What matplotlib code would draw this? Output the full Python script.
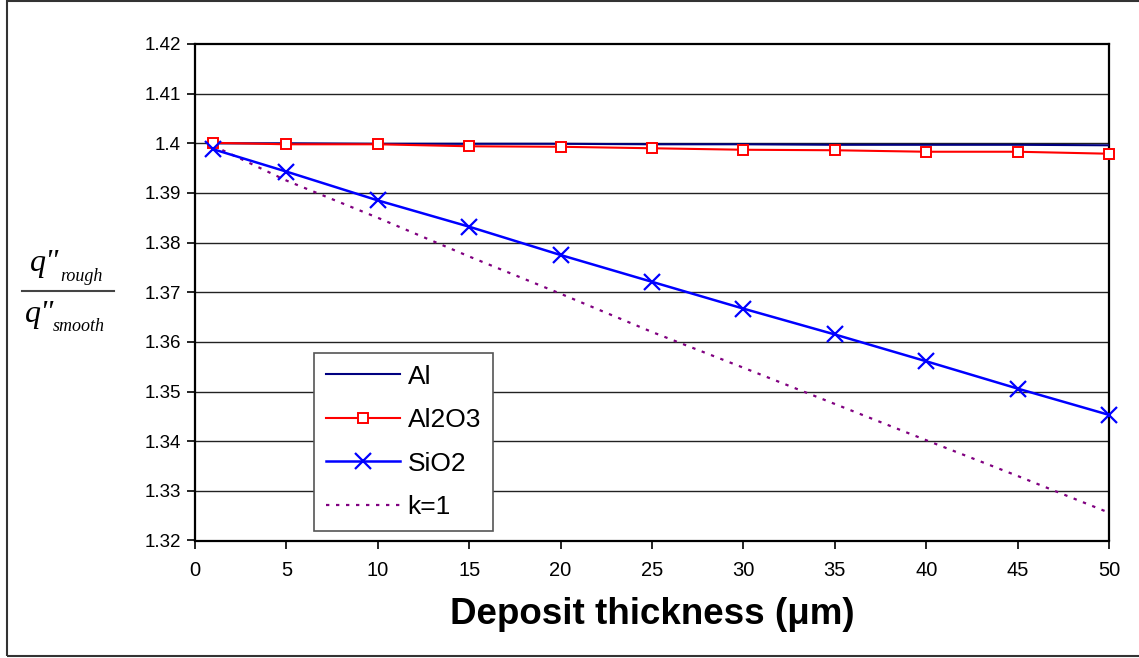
import matplotlib
matplotlib.use("Agg")
import matplotlib.pyplot as plt
from matplotlib.patches import Rectangle
from matplotlib.lines import Line2D

plt.rcParams['font.family'] = ['Liberation Sans', 'DejaVu Sans']

# ---- data ----
thickness = [1, 5, 10, 15, 20, 25, 30, 35, 40, 45, 50]
al = [1.4000, 1.4000, 1.3999, 1.3999, 1.3999, 1.3998, 1.3998, 1.3997, 1.3997, 1.3997, 1.3996]
al2o3 = [1.4001, 1.3998, 1.3998, 1.3994, 1.3993, 1.3990, 1.3987, 1.3986, 1.3983, 1.3983, 1.3979]
sio2 = [1.3988, 1.3943, 1.3885, 1.3832, 1.3775, 1.3721, 1.3667, 1.3615, 1.3561, 1.3506, 1.3453]
k1 = [1.3995, 1.3925, 1.3850, 1.3772, 1.3697, 1.3620, 1.3548, 1.3475, 1.3402, 1.3330, 1.3256]
series_labels = ['Al', 'Al2O3', 'SiO2', 'k=1']
x_ticks = list(range(0, 51, 5))
y_ticks = [1.32, 1.33, 1.34, 1.35, 1.36, 1.37, 1.38, 1.39, 1.40, 1.41, 1.42]
y_tick_labels = ['1.32', '1.33', '1.34', '1.35', '1.36', '1.37', '1.38', '1.39', '1.4', '1.41', '1.42']
xlabel = 'Deposit thickness (\u03bcm)'

W, H = 1139, 658
fig = plt.figure(figsize=(W / 100, H / 100), dpi=100)
ax = fig.add_axes([195 / W, 1 - 540.5 / H, (1109 - 195) / W, (540.5 - 44) / H])

# outer frame
fig.patches.append(Rectangle((6.5 / W, 1 - 656 / H), 1.2, (655 / H), transform=fig.transFigure,
                             fill=False, edgecolor='#333333', lw=1.5, zorder=0))

for yv in y_ticks[1:-1]:
    ax.axhline(yv, color='#222222', lw=1.0, zorder=1)

ax.plot(thickness, al, color='#000080', lw=1.5, label=series_labels[0], zorder=3)
ax.plot(thickness, al2o3, color='#FF0000', lw=1.5, marker='s', markersize=7,
        markerfacecolor='white', markeredgecolor='#FF0000', markeredgewidth=1.4,
        label=series_labels[1], zorder=4, clip_on=False)
ax.plot(thickness, sio2, color='#0000FF', lw=1.8, marker='x', markersize=12,
        markeredgewidth=1.6, label=series_labels[2], zorder=5, clip_on=False)
ax.plot(thickness, k1, color='#800080', lw=1.6, linestyle=(0, (1.5, 3.0)),
        label=series_labels[3], zorder=2)

ax.set_xlim(0, 50)
ax.set_ylim(1.32, 1.42)
ax.set_xticks(x_ticks)
ax.set_xticklabels([str(t) for t in x_ticks])
ax.set_yticks(y_ticks)
ax.set_yticklabels(y_tick_labels)
ax.tick_params(axis='both', direction='out', length=6, width=1.2, colors='black')
ax.tick_params(axis='x', pad=9, labelsize=14.5)
ax.tick_params(axis='y', pad=4, labelsize=13.5)
for s in ax.spines.values():
    s.set_linewidth(1.6)
    s.set_color('black')

ax.set_xlabel(xlabel, fontsize=26.5, fontweight='bold', labelpad=12)

# y-axis label as fraction
serif = ['Liberation Serif', 'DejaVu Serif']
fig.text(30 / W, 1 - 271 / H, 'q"', family=serif, style='italic', fontsize=23,
         ha='left', va='baseline')
fig.text(60 / W, 1 - 281 / H, 'rough', family=serif, style='italic', fontsize=13,
         ha='left', va='baseline')
fig.add_artist(Line2D([22 / W, 114 / W], [1 - 291 / H, 1 - 291 / H], transform=fig.transFigure,
                      color='#444444', lw=1.5))
fig.text(25 / W, 1 - 322 / H, 'q"', family=serif, style='italic', fontsize=23,
         ha='left', va='baseline')
fig.text(53 / W, 1 - 331 / H, 'smooth', family=serif, style='italic', fontsize=13,
         ha='left', va='baseline')

leg = ax.legend(loc='upper left', bbox_to_anchor=(314 / W, 1 - 352.7 / H),
                bbox_transform=fig.transFigure, fontsize=19, frameon=True, fancybox=False,
                edgecolor='#555555', framealpha=1, borderaxespad=0, borderpad=0.45,
                labelspacing=0.74, handlelength=2.8, handletextpad=0.3)
leg.get_frame().set_linewidth(1.2)

fig.savefig('out.png', dpi=100)
